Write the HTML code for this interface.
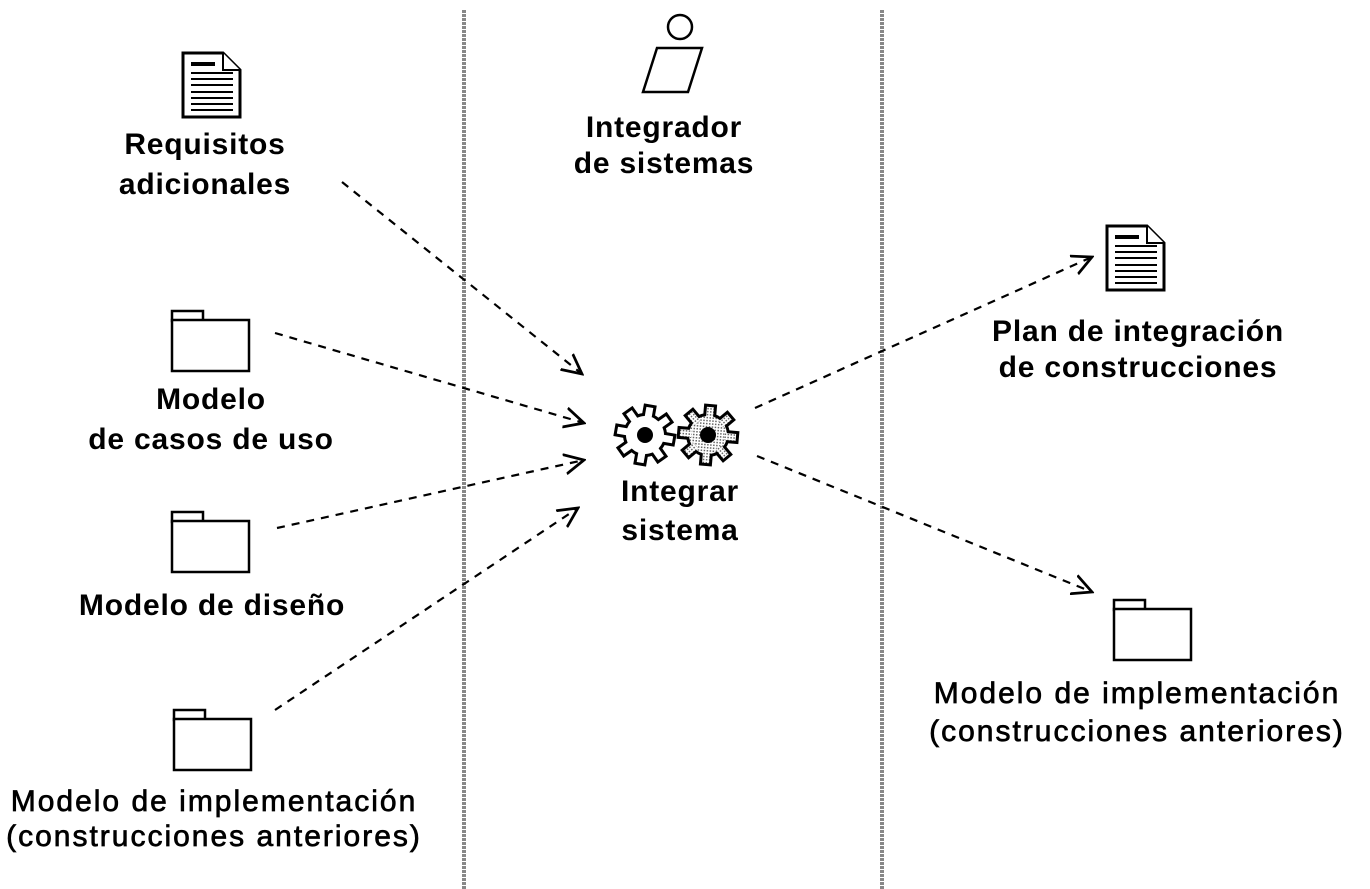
<!DOCTYPE html>
<html><head><meta charset="utf-8"><style>
html,body{margin:0;padding:0;background:#fff}
svg{display:block}
text{font-family:"Liberation Sans",Arial,sans-serif;font-weight:bold;font-size:30px;letter-spacing:0.8px;fill:#000;text-anchor:middle}
.r{font-weight:normal;font-size:30px;letter-spacing:2px;stroke:#000;stroke-width:0.7}
.d{stroke:#000;stroke-width:2.2;stroke-dasharray:8 7;fill:none}
.f{stroke:#000;stroke-width:2.5;fill:#fff}
</style></head><body>
<svg width="1370" height="889" viewBox="0 0 1370 889">
<defs>
<marker id="m" viewBox="0 0 20 20" refX="18" refY="10" markerWidth="22" markerHeight="22" markerUnits="userSpaceOnUse" orient="auto">
<path d="M0,1 L18,10 L0,19" fill="none" stroke="#000" stroke-width="2.5"/>
</marker>
<g id="gb"><circle r="22"/><g id="tb"><rect x="-6.5" y="-31" width="13" height="14"/><rect x="-6.5" y="17" width="13" height="14"/></g><use href="#tb" transform="rotate(45)"/><use href="#tb" transform="rotate(90)"/><use href="#tb" transform="rotate(135)"/></g>
<g id="gw"><circle r="19"/><g id="tw"><rect x="-3.5" y="-28" width="7" height="12"/><rect x="-3.5" y="16" width="7" height="12"/></g><use href="#tw" transform="rotate(45)"/><use href="#tw" transform="rotate(90)"/><use href="#tw" transform="rotate(135)"/></g>
<pattern id="dots" width="3" height="3" patternUnits="userSpaceOnUse"><rect width="3" height="3" fill="#fff"/><rect width="1.5" height="1.5" fill="#666"/></pattern>
<g id="doc"><path d="M0,0 H40 L57,17 V64 H0 Z" fill="#fff" stroke="#000" stroke-width="3"/><path d="M40,0 V17 H57" fill="#fff" stroke="#000" stroke-width="2"/>
<rect x="8" y="9" width="24" height="4"/><rect x="8" y="19" width="42" height="2"/><rect x="8" y="25" width="42" height="2"/><rect x="8" y="31" width="42" height="2"/><rect x="8" y="38" width="42" height="2"/><rect x="8" y="44" width="42" height="2"/><rect x="8" y="50" width="42" height="2"/><rect x="8" y="56" width="42" height="2"/></g>
<g id="fold"><rect x="0" y="0" width="31" height="10" class="f"/><rect x="0" y="9" width="77" height="51" class="f"/></g>
</defs>
<line x1="464" y1="10" x2="464" y2="889" stroke="#888" stroke-width="4" stroke-dasharray="3 1"/>
<line x1="882" y1="10" x2="882" y2="889" stroke="#888" stroke-width="4" stroke-dasharray="3 1"/>
<use href="#doc" x="183" y="53"/>
<use href="#doc" x="1107" y="226"/>
<use href="#fold" x="172" y="311"/>
<use href="#fold" x="172" y="512"/>
<use href="#fold" x="174" y="710"/>
<use href="#fold" x="1114" y="600"/>
<circle cx="680" cy="27" r="12" fill="none" stroke="#000" stroke-width="2.5"/>
<path d="M657,48 H702 L688,92 H643 Z" fill="none" stroke="#000" stroke-width="2.5"/>
<g transform="translate(645,435) rotate(10)"><use href="#gb"/><use href="#gw" fill="#fff"/></g>
<circle cx="645" cy="435" r="8"/>
<g transform="translate(708,435) rotate(5)"><use href="#gb"/><use href="#gw" fill="url(#dots)"/></g>
<circle cx="708" cy="435" r="8"/>
<line class="d" x1="342" y1="182" x2="582" y2="374" marker-end="url(#m)"/>
<line class="d" x1="275" y1="333" x2="584" y2="423" marker-end="url(#m)"/>
<line class="d" x1="277" y1="528" x2="584" y2="460" marker-end="url(#m)"/>
<line class="d" x1="275" y1="710" x2="578" y2="508" marker-end="url(#m)"/>
<line class="d" x1="755" y1="408" x2="1092" y2="257" marker-end="url(#m)"/>
<line class="d" x1="757" y1="456" x2="1092" y2="592" marker-end="url(#m)"/>
<text x="205" y="154">Requisitos</text>
<text x="205" y="194">adicionales</text>
<text x="664" y="137">Integrador</text>
<text x="664" y="173">de sistemas</text>
<text x="211" y="409">Modelo</text>
<text x="211" y="449">de casos de uso</text>
<text x="680" y="501">Integrar</text>
<text x="680" y="540">sistema</text>
<text x="1138" y="341">Plan de integración</text>
<text x="1138" y="377">de construcciones</text>
<text x="212" y="615">Modelo de diseño</text>
<text class="r" x="214" y="811">Modelo de implementación</text>
<text class="r" x="214" y="846">(construcciones anteriores)</text>
<text class="r" x="1137" y="703">Modelo de implementación</text>
<text class="r" x="1137" y="741">(construcciones anteriores)</text>
</svg>
</body></html>
